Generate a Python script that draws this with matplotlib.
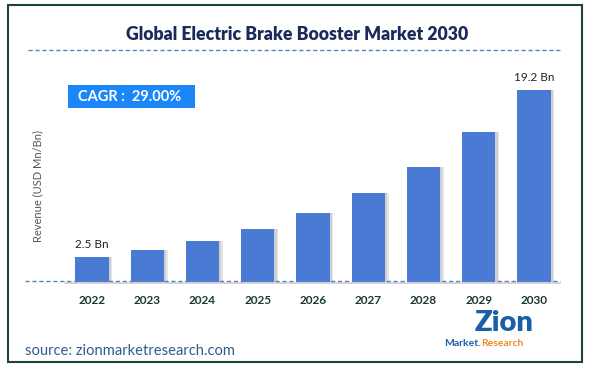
import matplotlib.pyplot as plt
from matplotlib.patches import Rectangle

years = ['2022', '2023', '2024', '2025', '2026', '2027', '2028', '2029', '2030']
revenue = [2.5, 3.2, 4.1, 5.3, 6.9, 8.9, 11.5, 15.0, 19.2]
first_label = '2.5 Bn'
last_label = '19.2 Bn'

plt.rcParams['font.family'] = ['Lato', 'DejaVu Sans']

W, H = 589, 367
fig = plt.figure(figsize=(W/100, H/100), dpi=100)

def fx(px):
  return px / W

def fy(py):
  return 1 - py / H

# outer border
fig.patches.append(Rectangle((fx(8), fy(362)), fx(574), 357/H, transform=fig.transFigure,
                             fill=False, edgecolor='#1d4636', linewidth=1.5))

# title + dashed rule
fig.text(fx(297), fy(35), 'Global Electric Brake Booster Market 2030', ha='center', va='center',
         fontsize=12.7, fontweight='heavy', color='#1b2a5c')
fig.add_artist(plt.Line2D([fx(28), fx(560)], [fy(50), fy(50)], transform=fig.transFigure,
                          color='#5b7fc7', linestyle=(0, (3, 2)), linewidth=1))

# axes positioned in pixel space
left, right, bottom, top = 58, 560, 282, 60
ax = fig.add_axes([fx(left), fy(bottom), fx(right-left), (bottom-top)/H])
x = list(range(len(years)))
pxu = 55.25
ax.set_xlim(-(92-left)/pxu, 8 + (right-534)/pxu)
ax.set_ylim(0, (bottom-top)/10)

# soft shadow then bars
ax.bar([i + 0.07 for i in x], revenue, width=0.6, color='#e6e6e6', zorder=1)
ax.bar([i + 0.04 for i in x], revenue, width=0.6, color='#cfcfcf', zorder=1)
ax.bar(x, revenue, width=0.6, color='#4a7bd4', zorder=2)

ax.text(x[0], revenue[0] + 0.7, first_label, ha='center', va='bottom', fontsize=8.5, color='#222222')
ax.text(x[-1], revenue[-1] + 0.7, last_label, ha='center', va='bottom', fontsize=8.5, color='#222222')

for s in ax.spines.values():
  s.set_visible(False)
ax.set_yticks([])
ax.set_xticks(x)
ax.set_xticklabels(years, fontsize=8.5, fontweight='bold', color='#1a3a2c')
ax.tick_params(axis='x', length=0, pad=9)
ax.patch.set_alpha(0)

# baseline lines
fig.add_artist(plt.Line2D([fx(65), fx(560)], [fy(283), fy(283)], transform=fig.transFigure,
                          color='#d0d0d0', linewidth=1.2))
fig.add_artist(plt.Line2D([fx(25), fx(560)], [fy(281), fy(281)], transform=fig.transFigure,
                          color='#5b7fc7', linestyle=(0, (3, 2)), linewidth=1))

fig.text(fx(38), fy(186), 'Revenue (USD Mn/Bn)', rotation=90, ha='center', va='center',
         fontsize=8, color='#555555')

# CAGR badge
fig.patches.append(Rectangle((fx(68), fy(108)), fx(127), 23/H, transform=fig.transFigure,
                             facecolor='#1a86f7', edgecolor='none'))
fig.text(fx(130), fy(97), 'CAGR :  29.00%', ha='center', va='center', fontsize=10.5,
         fontweight='bold', color='white')

# source + logo
fig.text(fx(25), fy(351), 'source: zionmarketresearch.com', ha='left', va='center',
         fontsize=10.6, color='#2f5d8c')
fig.text(fx(504), fy(323), 'Zion', ha='center', va='center', fontsize=21, fontweight='heavy',
         color='#1b5fa8')
fig.text(fx(481), fy(344), 'Market.', ha='right', va='center', fontsize=7.5, fontweight='bold',
         color='#1b5fa8')
fig.text(fx(481), fy(344), 'Research', ha='left', va='center', fontsize=7.5, fontweight='bold',
         color='#f28c1e')

fig.savefig('out.png', dpi=100)
